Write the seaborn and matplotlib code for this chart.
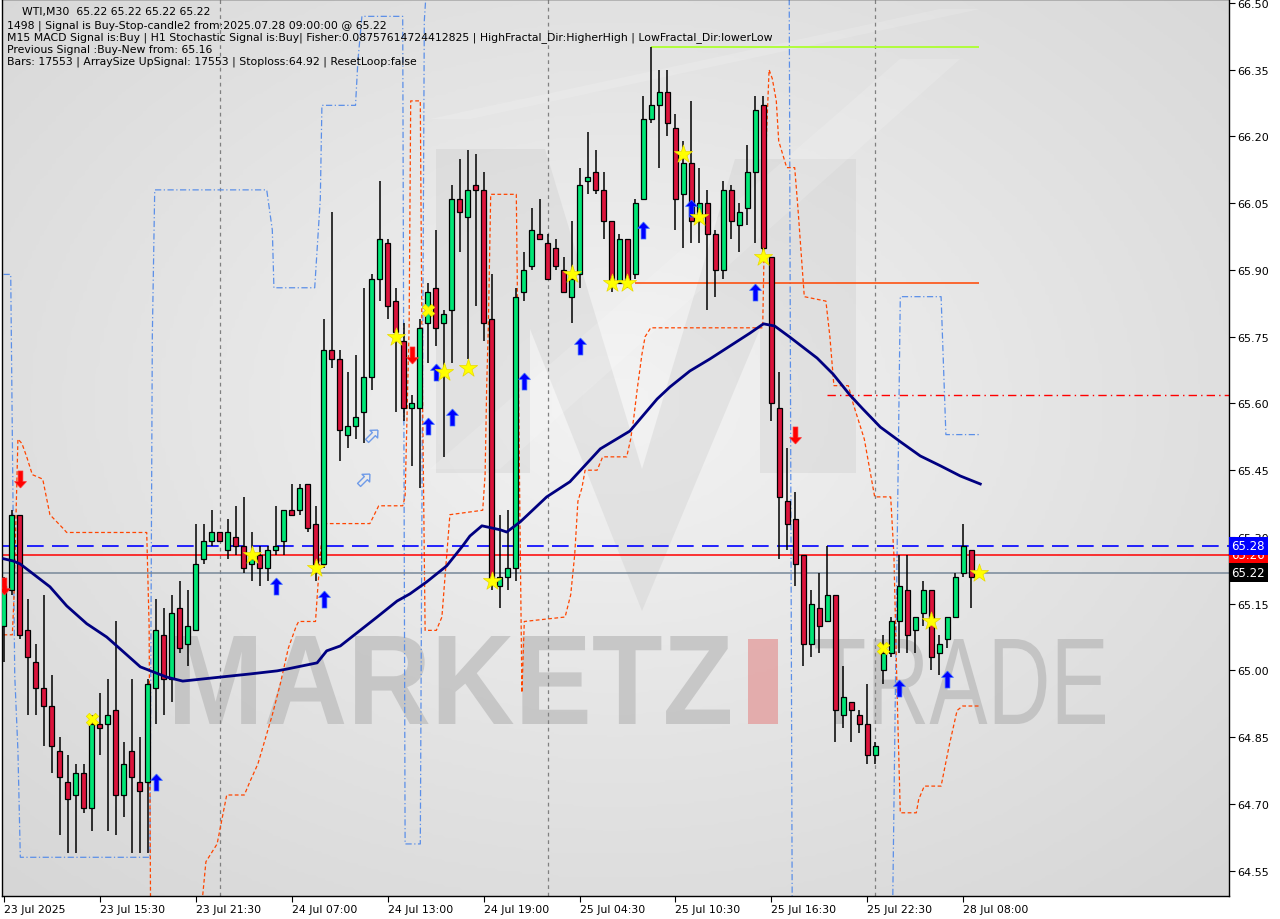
import numpy as np
import pandas as pd
import matplotlib
matplotlib.use('Agg')
import matplotlib.pyplot as plt
import seaborn as sns
from matplotlib.patches import PathPatch, Polygon
from matplotlib.textpath import TextPath
from matplotlib.font_manager import FontProperties
from matplotlib.transforms import Affine2D, IdentityTransform
from matplotlib.colors import LinearSegmentedColormap


# WTI M30 candles (bar index 0 = 23 Jul 2025)

opens = [65.10, 65.18, 65.35, 65.09, 65.02, 64.96, 64.92, 64.82, 64.75, 64.72,
         64.77, 64.69, 64.88, 64.88, 64.91, 64.72, 64.82, 64.75, 64.75, 64.96,
         65.08, 64.98, 65.14, 65.06, 65.09, 65.25, 65.29, 65.31, 65.27, 65.30,
         65.28, 65.24, 65.26, 65.23, 65.27, 65.29, 65.36, 65.36, 65.42, 65.33,
         65.24, 65.72, 65.70, 65.53, 65.55, 65.58, 65.66, 65.88, 65.96, 65.83,
         65.74, 65.59, 65.59, 65.78, 65.86, 65.78, 65.81, 66.06, 66.02, 66.09,
         66.08, 65.79, 65.19, 65.21, 65.23, 65.85, 65.91, 65.98, 65.96, 65.95,
         65.90, 65.84, 65.89, 66.10, 66.12, 66.08, 66.01, 65.87, 65.97, 65.89,
         66.06, 66.24, 66.27, 66.30, 66.22, 66.07, 66.14, 66.01, 66.05, 65.98,
         65.90, 66.08, 66.00, 66.04, 66.12, 66.27, 65.93, 65.59, 65.38, 65.34,
         65.26, 65.06, 65.14, 65.11, 65.17, 64.90, 64.93, 64.90, 64.88, 64.81,
         65.00, 65.04, 65.11, 65.18, 65.09, 65.13, 65.18, 65.04, 65.07, 65.12,
         65.22, 65.27, 65.22]
highs = [65.21, 65.36, 65.35, 65.16, 65.06, 65.17, 64.99, 64.85, 64.81, 64.79,
         64.79, 64.90, 64.95, 64.98, 65.11, 64.84, 64.98, 64.85, 64.98, 65.16,
         65.14, 65.17, 65.20, 65.18, 65.33, 65.33, 65.36, 65.31, 65.34, 65.37,
         65.39, 65.31, 65.28, 65.28, 65.37, 65.36, 65.42, 65.42, 65.42, 65.37,
         65.79, 66.03, 65.72, 65.67, 65.71, 65.86, 65.89, 66.10, 65.97, 65.86,
         65.78, 65.62, 65.79, 65.87, 65.99, 65.81, 66.09, 66.15, 66.17, 66.16,
         66.12, 65.89, 65.35, 65.36, 65.86, 65.94, 66.04, 66.06, 65.98, 65.97,
         65.93, 66.01, 66.13, 66.21, 66.17, 66.12, 66.01, 65.98, 65.97, 66.06,
         66.29, 66.40, 66.35, 66.35, 66.25, 66.19, 66.28, 66.13, 66.08, 65.99,
         66.10, 66.09, 66.05, 66.18, 66.29, 66.29, 65.93, 65.67, 65.50, 65.40,
         65.26, 65.18, 65.22, 65.28, 65.17, 65.01, 64.93, 64.91, 64.97, 64.84,
         65.08, 65.12, 65.26, 65.26, 65.12, 65.20, 65.18, 65.08, 65.12, 65.22,
         65.33, 65.27, 65.22]
lows = [65.02, 65.17, 65.07, 64.90, 64.90, 64.83, 64.77, 64.63, 64.59, 64.59,
        64.68, 64.64, 64.81, 64.64, 64.63, 64.67, 64.59, 64.59, 64.59, 64.88,
        64.90, 64.93, 65.04, 65.01, 65.09, 65.24, 65.28, 65.29, 65.25, 65.26,
        65.22, 65.20, 65.19, 65.20, 65.26, 65.26, 65.35, 65.35, 65.31, 65.20,
        65.23, 65.68, 65.47, 65.50, 65.52, 65.51, 65.63, 65.83, 65.79, 65.58,
        65.56, 65.46, 65.41, 65.69, 65.73, 65.48, 65.69, 65.94, 65.70, 65.82,
        65.74, 65.18, 65.14, 65.18, 65.20, 65.83, 65.90, 65.97, 65.88, 65.90,
        65.85, 65.78, 65.86, 66.07, 66.07, 65.97, 65.85, 65.87, 65.86, 65.88,
        66.06, 66.23, 66.13, 66.20, 65.99, 65.95, 65.96, 65.96, 65.81, 65.84,
        65.88, 65.97, 65.94, 66.00, 65.96, 65.94, 65.56, 65.25, 65.27, 65.19,
        65.01, 65.03, 65.04, 65.11, 64.84, 64.87, 64.84, 64.86, 64.79, 64.79,
        64.97, 65.03, 65.04, 65.04, 65.04, 65.10, 65.00, 64.99, 65.05, 65.12,
        65.21, 65.14, 65.22]
closes = [65.19, 65.35, 65.08, 65.03, 64.96, 64.92, 64.83, 64.76, 64.71, 64.77,
          64.69, 64.88, 64.87, 64.90, 64.72, 64.79, 64.76, 64.73, 64.97, 65.09,
          64.98, 65.13, 65.05, 65.10, 65.24, 65.29, 65.31, 65.29, 65.31, 65.28,
          65.23, 65.25, 65.23, 65.27, 65.28, 65.36, 65.35, 65.41, 65.32, 65.24,
          65.72, 65.70, 65.54, 65.55, 65.57, 65.66, 65.88, 65.97, 65.82, 65.76,
          65.59, 65.60, 65.77, 65.85, 65.77, 65.80, 66.06, 66.03, 66.08, 66.08,
          65.78, 65.20, 65.21, 65.23, 65.84, 65.90, 65.99, 65.97, 65.88, 65.91,
          65.85, 65.88, 66.09, 66.11, 66.08, 66.01, 65.87, 65.97, 65.87, 66.05,
          66.24, 66.27, 66.30, 66.23, 66.06, 66.14, 66.01, 66.05, 65.98, 65.90,
          66.08, 66.01, 66.03, 66.12, 66.26, 65.95, 65.60, 65.39, 65.33, 65.24,
          65.06, 65.15, 65.10, 65.17, 64.91, 64.94, 64.91, 64.88, 64.81, 64.83,
          65.04, 65.11, 65.19, 65.08, 65.12, 65.18, 65.03, 65.06, 65.12, 65.21,
          65.28, 65.21, 65.22]

tick_bars = [0, 12, 24, 36, 48, 60, 72, 84, 96, 108, 120]
tick_labels = ['23 Jul 2025', '23 Jul 15:30', '23 Jul 21:30', '24 Jul 07:00',
               '24 Jul 13:00', '24 Jul 19:00', '25 Jul 04:30', '25 Jul 10:30',
               '25 Jul 16:30', '25 Jul 22:30', '28 Jul 08:00']
price_ticks = [66.50, 66.35, 66.20, 66.05, 65.90, 65.75, 65.60, 65.45, 65.30,
               65.15, 65.00, 64.85, 64.70, 64.55]
day_separators = [27, 68, 109]

# moving average (navy)
ma_bars = [0, 1.2, 2.1, 3.7, 5.8, 7.9, 10.4, 12.9, 14.6, 17.1, 20.4, 22.4, 27.1,
           30.8, 34.2, 35.4, 39.2, 40.4, 42.1, 46.7, 49.2, 50.8, 52.9, 55.4, 57.4,
           58.3, 59.8, 62.1, 62.9, 64.6, 67.9, 70.8, 74.6, 78.3, 81.7, 83.3, 85.8,
           88.3, 90.8, 93.3, 95.0, 96.4, 98.3, 101.7, 103.7, 105.8, 107.4, 109.6,
           112.1, 114.6, 117.1, 119.6, 122.1]
ma_vals = [65.251, 65.246, 65.239, 65.217, 65.188, 65.145, 65.105, 65.075, 65.048,
           65.008, 64.985, 64.976, 64.985, 64.992, 64.999, 65.003, 65.017, 65.044,
           65.055, 65.120, 65.156, 65.172, 65.199, 65.235, 65.280, 65.302, 65.325,
           65.316, 65.311, 65.334, 65.390, 65.424, 65.498, 65.538, 65.610, 65.637,
           65.673, 65.700, 65.729, 65.758, 65.779, 65.774, 65.749, 65.702, 65.666,
           65.619, 65.588, 65.547, 65.514, 65.482, 65.460, 65.437, 65.419]

# stepped orange band
orange_bars = [0.0, 1.1, 1.3, 1.8, 2.3, 2.9, 3.6, 4.9, 5.8, 7.4, 7.9, 17.9, 18.2, 18.4,
               24.4, 25.3, 26.7, 27.9, 30.1, 30.8, 31.8, 33.6, 34.6, 35.6, 36.6, 36.9,
               39.0, 39.3, 39.7, 40.1, 45.8, 46.9, 49.9, 50.2, 50.7, 50.9, 52.1, 52.3,
               52.7, 54.1, 54.8, 55.1, 55.8, 59.9, 60.2, 60.4, 60.6, 60.9, 64.1, 64.3,
               64.8, 65.1, 70.2, 70.9, 71.4, 71.8, 72.3, 72.7, 74.2, 74.9, 77.9, 78.4,
               78.8, 79.2, 79.8, 80.2, 80.9, 94.9, 95.3, 95.7, 96.1, 96.6, 96.9, 97.9,
               98.9, 99.3, 100.1, 102.8, 103.3, 103.8, 105.6, 106.2, 107.6, 108.6,
               108.9, 110.9, 111.3, 111.7, 112.1, 114.1, 114.4, 115.1, 117.2, 118.2,
               119.2, 119.9, 122.0]
orange_vals = [65.08, 65.08, 65.16, 65.52, 65.51, 65.48, 65.44, 65.43, 65.35, 65.32,
               65.31, 65.31, 65.10, 64.40, 64.40, 64.57, 64.61, 64.72, 64.72, 64.75,
               64.79, 64.90, 64.97, 65.05, 65.10, 65.11, 65.11, 65.19, 65.28, 65.33,
               65.33, 65.37, 65.37, 65.39, 65.77, 66.28, 66.28, 65.75, 65.09, 65.09,
               65.12, 65.19, 65.35, 65.36, 65.44, 65.64, 65.77, 66.07, 66.07, 65.75,
               64.95, 65.11, 65.12, 65.17, 65.26, 65.38, 65.41, 65.45, 65.45, 65.48,
               65.48, 65.52, 65.57, 65.63, 65.71, 65.75, 65.77, 65.77, 66.17, 66.35,
               66.33, 66.28, 66.19, 66.13, 66.13, 66.04, 65.84, 65.83, 65.75, 65.64,
               65.64, 65.60, 65.52, 65.42, 65.39, 65.39, 65.26, 64.95, 64.68, 64.68,
               64.71, 64.74, 64.74, 64.83, 64.91, 64.92, 64.92]

# stepped blue band
blue_bars = [0.0, 0.9, 1.4, 1.8, 2.1, 18.3, 18.6, 18.9, 32.9, 33.6, 33.8, 38.9, 39.6,
             39.8, 44.0, 44.3, 44.8, 49.9, 50.2, 52.1, 52.6, 53.1, 98.2, 98.6, 111.1,
             112.1, 117.2, 117.8, 122.0]
blue_vals = [65.89, 65.89, 64.99, 64.82, 64.58, 64.58, 65.75, 66.08, 66.08, 65.99,
             65.86, 65.86, 66.06, 66.27, 66.27, 66.37, 66.47, 66.47, 64.61, 64.61,
             66.46, 66.60, 66.60, 64.40, 64.40, 65.84, 65.84, 65.53, 65.53]

# signal markers
star_bars = [31, 39, 49, 55, 58, 61, 71, 76, 78, 85, 87, 95, 116, 122]
star_vals = [65.26, 65.23, 65.75, 65.67, 65.68, 65.20, 65.89, 65.87, 65.87, 66.16,
             66.02, 65.93, 65.11, 65.22]
cross_bars = [11, 53, 110]
cross_vals = [64.89, 65.81, 65.05]
up_bars = [19, 34, 40, 53, 54, 56, 65, 72, 80, 86, 94, 112, 118]
up_vals = [64.75, 65.19, 65.16, 65.55, 65.67, 65.57, 65.65, 65.73, 65.99, 66.04,
           65.85, 64.96, 64.98]
down_bars = [0, 2, 51, 99]
down_vals = [65.19, 65.43, 65.71, 65.53]
hollow_bars = [45, 46]
hollow_vals = [65.43, 65.53]

header = ['WTI,M30  65.22 65.22 65.22 65.22',
          '1498 | Signal is Buy-Stop-candle2 from:2025.07.28 09:00:00 @ 65.22',
          'M15 MACD Signal is:Buy | H1 Stochastic Signal is:Buy| Fisher:0.08757614724412825 | HighFractal_Dir:HigherHigh | LowFractal_Dir:lowerLow',
          'Previous Signal :Buy-New from: 65.16',
          'Bars: 17553 | ArraySize UpSignal: 17553 | Stoploss:64.92 | ResetLoop:false']


df = pd.DataFrame({'o': opens, 'h': highs, 'l': lows, 'c': closes})
df['bar'] = np.arange(len(df))

W, H = 1280, 920
fig = plt.figure(figsize=(W / 100, H / 100), dpi=100)
fig.patch.set_facecolor('white')
ax = fig.add_axes([2 / W, 23 / H, 1227 / W, 897 / H])
ax.set_xlim(-0.19, 153.19)
ax.set_ylim(64.493, 66.509)

# background gradient
gx, gy = np.meshgrid(np.linspace(0, 1, 300), np.linspace(0, 1, 300))
r = np.sqrt(((gx - 0.5) / 0.75) ** 2 + ((gy - 0.55) / 0.75) ** 2)
bg = LinearSegmentedColormap.from_list('bg', ['#f3f3f3', '#e4e4e4', '#d6d6d6'])
ax.imshow(r, cmap=bg, extent=[0, 1, 0, 1], transform=ax.transAxes,
          aspect='auto', zorder=0, origin='lower')


def px(x, y):
    return (x, H - y)


# watermark logo
logo = [(436, 474), (436, 150), (545, 150), (642, 470), (735, 160), (856, 160),
        (856, 474), (760, 474), (760, 330), (642, 612), (530, 330), (530, 474)]
ax.add_patch(Polygon([px(*p) for p in logo], closed=True, fc='#cfcfcf', ec='none',
                     alpha=0.4, transform=IdentityTransform(), zorder=0.2))
for stripe in ([(430, 120), (470, 120), (980, 10), (940, 10)],
               [(430, 470), (500, 470), (960, 60), (900, 60)]):
    ax.add_patch(Polygon([px(*p) for p in stripe], closed=True, fc='white', ec='none',
                         alpha=0.15, transform=IdentityTransform(), zorder=0.2))


def word(txt, box, color, weight, alpha):
    fp = FontProperties(family='Liberation Sans', weight=weight)
    tp = TextPath((0, 0), txt, size=100, prop=fp)
    ext = tp.get_extents()
    x0, y0, x1, y1 = box
    tr = (Affine2D().translate(-ext.x0, -ext.y0)
          .scale((x1 - x0) / ext.width, (y1 - y0) / ext.height)
          .translate(x0, H - y1))
    ax.add_patch(PathPatch(tr.transform_path(tp), fc=color, ec='none', alpha=alpha,
                           transform=IdentityTransform(), zorder=0.3))


word('MARKETZ', (175, 637, 730, 725), '#bdbdbd', 'bold', 0.75)
word('TRADE', (815, 640, 1105, 725), '#b8b8b8', 'normal', 0.7)
ax.add_patch(Polygon([px(748, 640), px(778, 640), px(778, 725), px(748, 725)],
                     closed=True, fc='#e39a9a', ec='none', alpha=0.75,
                     transform=IdentityTransform(), zorder=0.3))

# day separators
for b in day_separators:
    ax.axvline(b, color='#808080', lw=0.9, ls=(0, (3, 3)), zorder=1)

# indicator bands
sns.lineplot(x=blue_bars, y=blue_vals, sort=False, estimator=None, ax=ax,
             color='#5b8fe8', lw=0.9, linestyle=(0, (5, 2, 1, 2)), zorder=2)
sns.lineplot(x=orange_bars, y=orange_vals, sort=False, estimator=None, ax=ax,
             color='#ff4500', lw=0.9, linestyle=(0, (3, 2)), zorder=2)

# horizontal levels
ax.axhline(65.28, color='#0000ff', lw=1.2, ls=(0, (10, 5)), zorder=2)
ax.axhline(65.26, color='#ff0000', lw=1.1, zorder=2)
ax.axhline(65.22, color='#778899', lw=1.1, zorder=2)
ax.hlines(66.40, 81, 122, color='#adff2f', lw=1.3, zorder=2)
ax.hlines(65.87, 79, 122, color='#ff4500', lw=1.1, zorder=2)
ax.hlines(65.62, 103, 153.2, color='#ff0000', lw=1.0, ls=(0, (6, 3, 1, 3)), zorder=2)

# candles
bull = df['c'] > df['o']
bear = df['c'] < df['o']
ax.vlines(df['bar'], df['l'], df['h'], color='black', lw=1.1, zorder=3)
ax.bar(df.loc[bull, 'bar'], df.loc[bull, 'c'] - df.loc[bull, 'o'], bottom=df.loc[bull, 'o'],
       width=0.62, color='#00e676', edgecolor='black', lw=0.9, zorder=4)
ax.bar(df.loc[bear, 'bar'], df.loc[bear, 'c'] - df.loc[bear, 'o'], bottom=df.loc[bear, 'o'],
       width=0.62, color='#dc143c', edgecolor='black', lw=0.9, zorder=4)
flat = df[df['c'] == df['o']]
ax.hlines(flat['c'], flat['bar'] - 0.31, flat['bar'] + 0.31, color='black', lw=1, zorder=4)

# moving average
sns.lineplot(x=ma_bars, y=ma_vals, sort=False, estimator=None, ax=ax,
             color='#000080', lw=2.0, zorder=5)

# signal markers
up_arrow = [(0, 1), (0.7, 0.25), (0.28, 0.25), (0.28, -1), (-0.28, -1),
            (-0.28, 0.25), (-0.7, 0.25), (0, 1)]
down_arrow = [(x, -y) for x, y in up_arrow]
rot = np.deg2rad(-45)
hollow_arrow = [(x * np.cos(rot) - y * np.sin(rot), x * np.sin(rot) + y * np.cos(rot))
                for x, y in up_arrow]

sns.scatterplot(x=up_bars, y=up_vals, ax=ax, marker=up_arrow, s=150,
                color='#0000ff', edgecolor='#3a6cff', linewidth=0.5, zorder=6)
sns.scatterplot(x=down_bars, y=down_vals, ax=ax, marker=down_arrow, s=150,
                color='#ff0000', edgecolor='#ff3030', linewidth=0.5, zorder=6)
sns.scatterplot(x=star_bars, y=star_vals, ax=ax, marker='*', s=190,
                color='#ffff00', edgecolor='#e8d800', linewidth=0.5, zorder=6)
sns.scatterplot(x=cross_bars, y=cross_vals, ax=ax, marker='X', s=80,
                color='#ffff00', edgecolor='#e8d800', linewidth=0.5, zorder=6)
ax.plot(hollow_bars, hollow_vals, ls='none', marker=hollow_arrow, ms=10,
        mfc='none', mec='#6f9be8', mew=1.0, zorder=6)

# axes, ticks
for s in ax.spines.values():
    s.set_color('black')
    s.set_linewidth(1)
ax.yaxis.tick_right()
ax.set_yticks(price_ticks)
ax.set_yticklabels([f'{p:.2f}' for p in price_ticks])
ax.tick_params(axis='y', length=4, width=0.8, pad=2, labelsize=8, colors='black')
ax.set_xticks(tick_bars)
ax.set_xticklabels(tick_labels, ha='left')
ax.tick_params(axis='x', length=4, width=0.8, pad=2, labelsize=7.8, colors='black')
ax.set_xlabel('')
ax.set_ylabel('')

# price boxes on the right scale
ytr = ax.get_yaxis_transform()
for price, fc in ((65.26, '#ff0000'), (65.28, '#0000ff'), (65.22, '#000000')):
    ax.text(1.002, price, f'{price:.2f}', transform=ytr, ha='left', va='center',
            fontsize=8.5, color='white', zorder=10, clip_on=False,
            bbox=dict(boxstyle='square,pad=0.22', fc=fc, ec='none'))

# header text
fig.text(22 / W, 1 - 12.5 / H, header[0], fontsize=7.8, va='center', ha='left')
for i, line in enumerate(header[1:]):
    fig.text(7 / W, 1 - (25.5 + 12.1 * i) / H, line, fontsize=7.8, va='center', ha='left')

fig.savefig('out.png', dpi=100)
